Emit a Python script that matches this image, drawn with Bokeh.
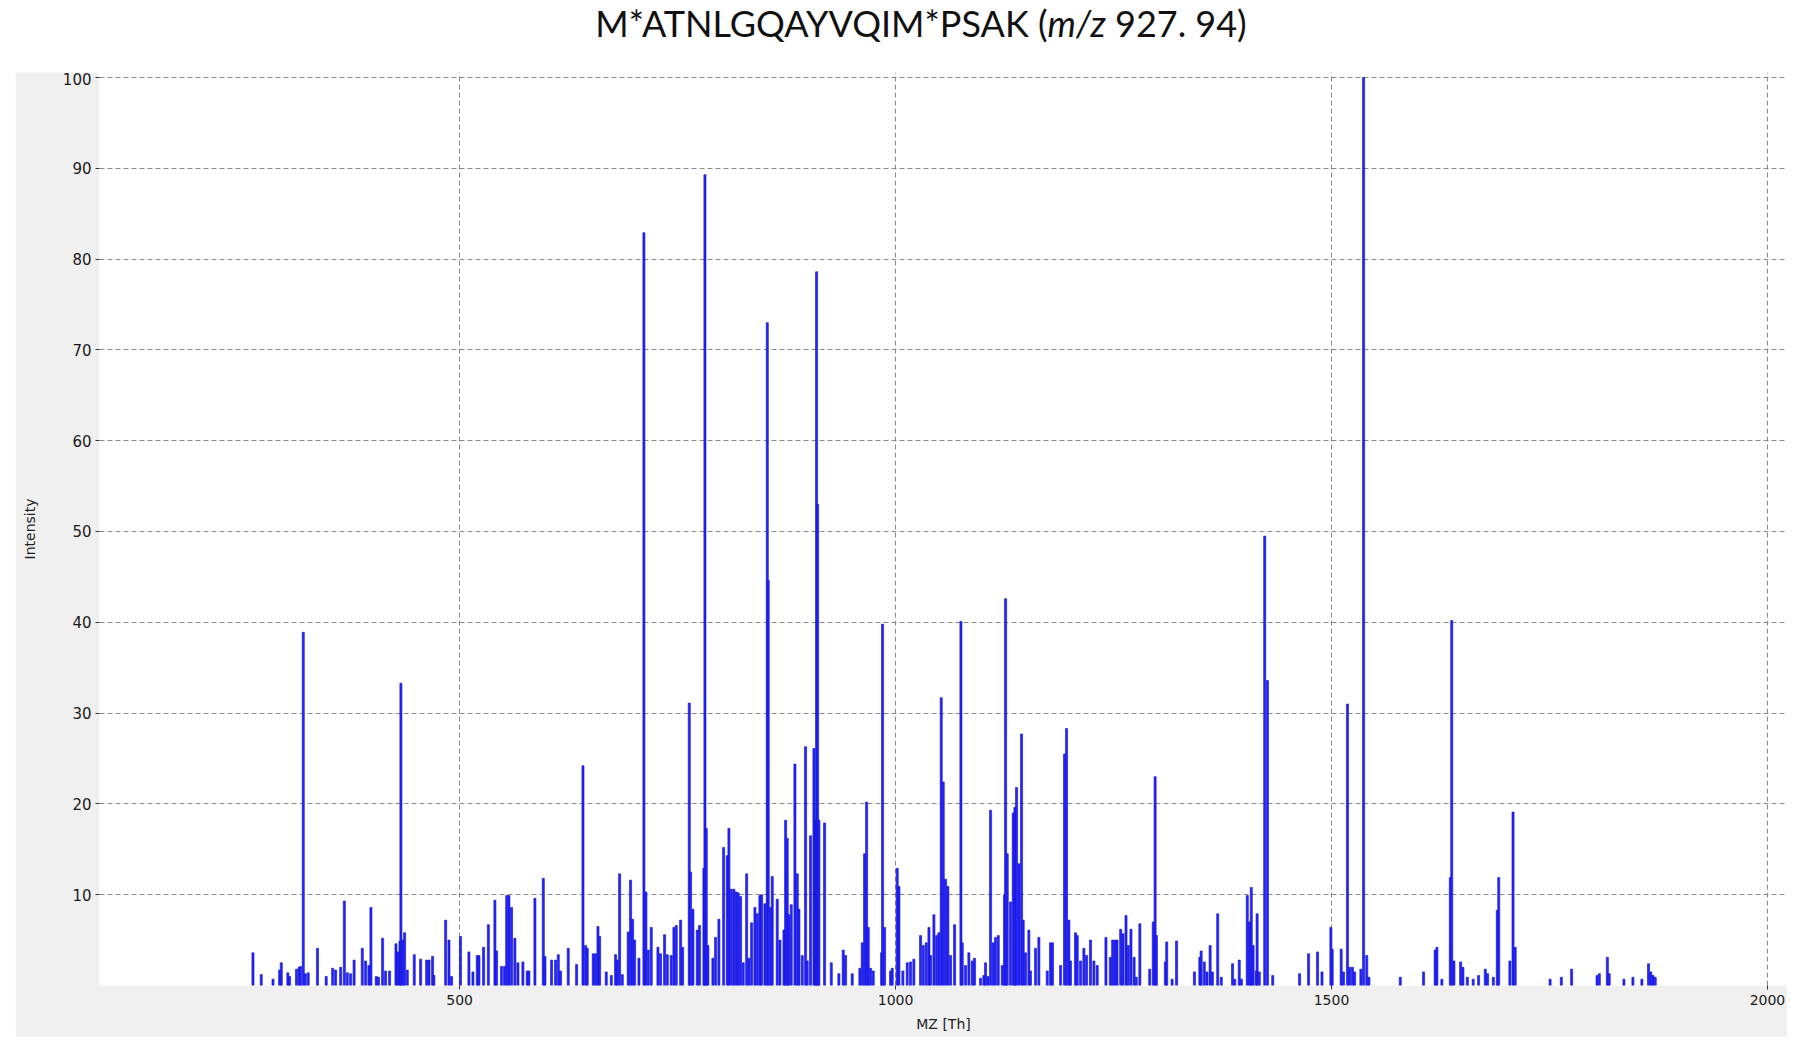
from bokeh.plotting import figure
from bokeh.models import Range1d, FixedTicker, Div, ColumnDataSource
from bokeh.layouts import column
from bokeh.embed import file_html
from bokeh.resources import INLINE

TITLE_HTML = "M*ATNLGQAYVQIM*PSAK (<i>m/z</i> 927. 94)"
X_LABEL = "MZ [Th]"
Y_LABEL = "Intensity"
x_ticks = [500, 1000, 1500, 2000]
y_ticks = [10, 20, 30, 40, 50, 60, 70, 80, 90, 100]

mz = [
    263, 272.5, 286, 293.6, 295.5, 303, 305, 313, 316, 317.5, 320.7, 323, 326.4, 337, 347,
    354.4, 357.8, 363.6, 367.8, 371.2, 375, 379, 388.4, 392.2, 396, 398.3, 404.4, 407, 411.7,
    415.1, 419.7, 427, 429.2, 431.6, 432.7, 434.6, 436.9, 440, 448, 455.3, 462.2, 464.9, 469,
    470.5, 484, 487.8, 490.8, 501, 510.7, 515.3, 520.3, 522.2, 527.5, 533, 540.5, 542.4, 548.1,
    551.6, 554, 556.6, 559.6, 563.4, 566.9, 572.6, 577.6, 579.5, 586.4, 596, 597.9, 605.5,
    610.1, 613.2, 615.8, 624.6, 634.2, 641.5, 644.5, 646.4, 653.3, 656, 658.7, 660.6, 668.2,
    674, 678.9, 680.8, 683.5, 686.6, 693.4, 696.1, 698.4, 700.7, 705.7, 711.4, 713.7, 716.4,
    719.8, 727.5, 730.5, 735.1, 738.2, 742.7, 745.8, 748.5, 753.5, 755.8, 763.4, 764.9, 767.6,
    772.6, 775.2,
    780.2, 781.4, 782.9, 784.8, 790.5, 793.6, 797.4, 802.8, 807, 808.9, 811.6, 814.6, 817.3,
    819.6, 822.3, 825.3, 829.2, 831.8, 834.9, 838.7, 841.4, 844.4, 846.4, 850.2, 852.9, 854,
    856.7, 858.6, 864.3, 867.4, 872, 873.9, 875.8, 877.7, 880.4, 884.6, 887.3, 889.2, 893,
    896.8, 898.7, 902.5, 906.4, 908.3, 909.4, 910.6, 912.1, 918.6, 926.3, 935, 940, 942.7,
    950.3, 959.1, 961.8, 964.5, 966.8, 968.7, 971.4, 974.4, 984, 985.1, 987.4, 994.3, 996.2,
    1001.9, 1003.9, 1008.4, 1013.4, 1017.2, 1021, 1028.7, 1031.8, 1035.2, 1038.3, 1040.2,
    1044, 1047.1, 1049.7, 1052.4, 1054.7, 1057.4, 1060, 1063.1, 1067.7, 1075, 1076.5, 1080.3,
    1084.1, 1088, 1090.6, 1097.5, 1101.3, 1103.2, 1106, 1109, 1112, 1114.7, 1117.8, 1122.4,
    1125, 1126.2, 1128.1, 1131.9, 1135, 1136.9, 1138.8, 1141.5, 1144.5, 1146.4, 1149.1,
    1152.9, 1154.8, 1160.6, 1164.4, 1174, 1177.8, 1180, 1189.3, 1193.8, 1196.1, 1198.8,
    1200.7, 1206.4, 1208.4, 1212.2, 1216, 1219.1, 1223.6, 1227.5, 1231.3,
    1241.3, 1246.4, 1249, 1251.5, 1254, 1258.2, 1260.8, 1264.3, 1266.9, 1270, 1273.6, 1276.1,
    1280.2, 1291.5, 1295.6, 1297.7, 1299.2, 1309.5, 1311, 1317.2, 1322.3, 1342.8, 1349,
    1350.5, 1354.1, 1357.2, 1360.8, 1363.4, 1369.5, 1373.6, 1386.5, 1389, 1394.2, 1396.7,
    1403.4, 1406, 1408, 1410.1, 1413.7, 1414.7, 1417.2, 1423.4, 1426.5, 1432.6, 1463.4,
    1473.7, 1484, 1489.1, 1499.3, 1500.8, 1511.1, 1513.7, 1518.3, 1520.9, 1524, 1526.5,
    1533.7, 1536.8, 1540.4, 1542.9, 1578.9, 1605.6, 1618.9, 1620.9, 1626.6, 1636.3, 1637.9,
    1640.4, 1648.1, 1650.7, 1655.8, 1662.5, 1668.7, 1676.4, 1679, 1685.6, 1690.2, 1691.8,
    1704.6, 1708.2, 1710.7, 1750.7, 1763.6, 1775.4, 1804.6, 1807.2, 1816.4, 1818.5, 1835.4,
    1845.7, 1856, 1863.6, 1866.2, 1868.7, 1871.3,
]

intensity = [
    3.6, 1.2, 0.7, 1.7, 2.5, 1.4, 1.0, 1.8, 2.0, 2.1, 38.9, 1.3, 1.4, 4.1, 1.0,
    1.9, 1.7, 2.0, 9.3, 1.4, 1.3, 2.8, 4.1, 2.7, 2.2, 8.6, 1.0, 0.9, 5.2,
    1.6, 1.6, 4.6, 3.7, 4.9, 33.3, 5.0, 5.8, 1.7, 3.4, 2.9, 2.8, 2.8, 3.2,
    1.1, 7.2, 5.0, 1.0, 5.4, 3.7, 1.5, 3.3, 3.3, 4.2, 6.7, 9.4, 3.8, 2.1,
    2.1, 9.9, 9.9, 8.6, 5.2, 2.5, 2.6, 1.6, 1.6, 9.6, 11.8, 3.2, 2.8,
    2.8, 3.4, 1.6, 4.1, 2.3, 24.2, 4.4, 4.1, 3.5, 3.5, 6.5, 5.4, 1.5,
    1.1, 3.4, 2.8, 12.3, 1.2, 5.9, 11.6, 7.3, 5.0, 3.0, 82.9, 10.3, 3.9,
    6.4, 4.2, 3.5, 5.6, 3.4, 3.3, 6.4, 6.6, 7.2, 4.2, 31.1, 12.5, 8.4,
    6.1, 6.6,
    12.9, 89.3, 17.3, 4.4, 3.0, 5.3, 7.3, 15.2, 14.3, 17.3, 10.6, 10.6, 10.3,
    10.2, 9.8, 2.5, 12.3, 3.0, 6.9, 8.6, 7.9, 9.9, 10.0, 9.0, 73.0, 44.6,
    8.6, 12.0, 9.5, 5.0, 6.1, 18.2, 16.2, 7.8, 8.9, 24.4, 12.3, 8.4, 3.3,
    26.3, 2.7, 16.5, 26.1, 18.2, 78.6, 53.0, 18.2, 17.9, 2.5, 1.3, 3.9, 3.3,
    1.3, 1.9, 4.7, 14.5, 20.2, 6.4, 1.9, 1.6, 3.6, 39.8, 6.4, 1.6, 1.9,
    12.9, 10.9, 1.6, 2.5, 2.6, 2.9, 5.5, 4.4, 4.7, 6.4, 3.3,
    7.8, 5.5, 5.8, 31.7, 22.4, 11.7, 10.9, 3.3, 6.7, 40.1, 4.7, 2.2,
    3.6, 2.7, 3.0, 0.8, 1.1, 2.5, 1.0, 19.3, 4.7, 5.3, 5.5, 2.2,
    10.0, 42.6, 14.5, 9.2, 19.0, 19.6, 21.8, 13.4, 27.7, 7.2, 3.6,
    6.1, 1.6, 4.1, 5.3, 1.6, 4.7, 4.7, 2.2, 25.5, 28.3, 7.2,
    2.7, 5.8, 5.5, 2.7, 4.1, 3.3, 5.0, 2.7, 2.2,
    5.3, 3.1, 5.0, 5.0, 5.0, 6.2, 5.7, 7.7, 4.4, 6.2, 3.1, 0.9,
    6.8, 1.8, 7.0, 23.0, 5.5, 2.6, 4.8, 0.7, 4.9, 1.5, 3.1,
    3.8, 2.6, 1.5, 4.4, 1.5, 7.9, 0.9, 2.4, 0.7, 2.8, 0.7,
    9.9, 7.0, 10.8, 4.4, 1.6, 7.9, 1.5, 49.5, 33.6, 1.1, 1.3,
    3.5, 3.7, 1.5, 6.4, 4.0, 4.0, 1.5, 31.0, 2.0, 2.0, 1.5,
    1.8, 100.0, 3.3, 0.9, 0.9, 1.5, 3.9, 4.2, 0.7, 11.9, 40.2,
    2.7, 2.6, 2.0, 0.9, 0.7, 1.1, 1.8, 1.3, 0.9, 8.3, 11.9,
    2.7, 19.1, 4.2, 0.7, 0.9, 1.8, 1.1, 1.3, 3.1, 1.3, 0.7,
    0.9, 0.7, 2.4, 1.5, 1.1, 0.9,
]

src = ColumnDataSource(data=dict(mz=mz, inten=intensity))

p = figure(width=1772, height=965, output_backend="svg", toolbar_location=None,
           x_range=Range1d(87, 2023), y_range=Range1d(0, 100.55),
           min_border_left=84, min_border_right=0, min_border_top=0, min_border_bottom=52,
           margin=(0, 0, 0, 15))
p.background_fill_color = "white"
p.border_fill_color = "#f0f0f0"
p.outline_line_color = None

p.vbar(x="mz", top="inten", bottom=0, width=2.4, source=src,
       fill_color="#2424ff", line_color="#1212c8", line_width=0.6)

p.xaxis.ticker = FixedTicker(ticks=x_ticks)
p.yaxis.ticker = FixedTicker(ticks=y_ticks)
for ax in (p.xaxis[0], p.yaxis[0]):
    ax.axis_line_color = None
    ax.major_tick_in = 0
    ax.major_tick_out = 4
    ax.major_tick_line_color = "#333333"
    ax.minor_tick_line_color = None
    ax.major_label_text_color = "#1a1a1a"
    ax.major_label_text_font = "DejaVu Sans"
    ax.axis_label_text_font = "DejaVu Sans"
    ax.axis_label_text_font_style = "normal"
    ax.axis_label_text_color = "#222222"
    ax.axis_label_text_font_size = "14px"
p.xaxis.major_label_text_font_size = "14px"
p.yaxis.major_label_text_font_size = "15px"
p.xaxis.major_label_standoff = 5
p.yaxis.major_label_standoff = 4
p.xaxis.axis_label = X_LABEL
p.yaxis.axis_label = Y_LABEL
p.xaxis.axis_label_standoff = 8
p.yaxis.axis_label_standoff = 22

p.xgrid.grid_line_color = "#8a8a8a"
p.xgrid.grid_line_dash = "5 3"
p.ygrid.grid_line_color = "#8a8a8a"
p.ygrid.grid_line_dash = "5 3"
p.grid.grid_line_width = 1

title = Div(text=TITLE_HTML, width=1200, height=67, margin=(5, 0, 0, 321),
            styles={"font-family": "Lato", "font-size": "36px", "color": "#111111",
                    "text-align": "center", "width": "1200px", "line-height": "1.0"})

layout = column(title, p, spacing=0)

open("out.html", "w").write(file_html(layout, INLINE))
